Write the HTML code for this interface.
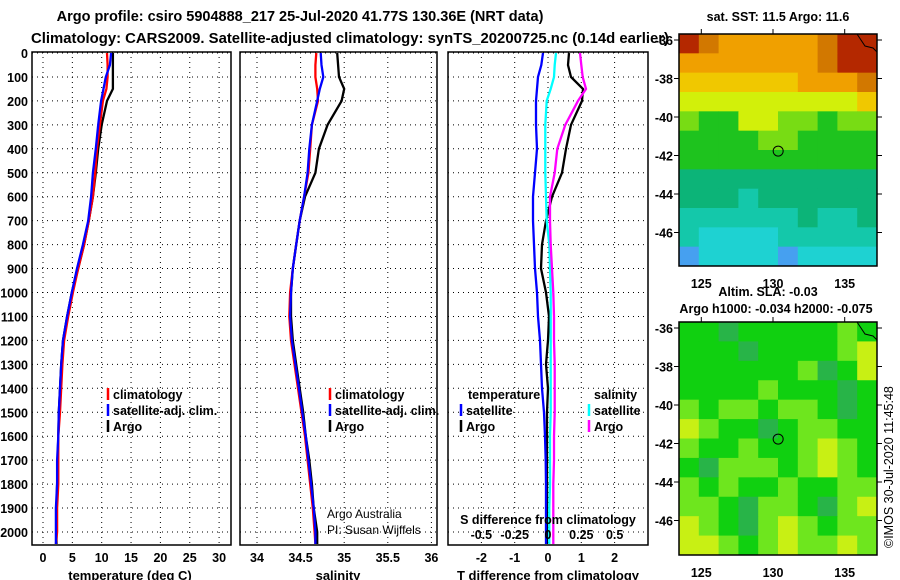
<!DOCTYPE html>
<html><head><meta charset="utf-8">
<style>
html,body{margin:0;padding:0;background:#fff;}
svg{display:block;font-family:"Liberation Sans",sans-serif;}
.b{font-weight:bold;}
</style></head>
<body>
<svg id="s" width="900" height="580" viewBox="0 0 900 580" xmlns="http://www.w3.org/2000/svg">
<text x="300" y="21" text-anchor="middle" class="b" font-size="14.5">Argo profile: csiro 5904888_217 25-Jul-2020 41.77S 130.36E (NRT data)</text>
<text x="350" y="43" text-anchor="middle" class="b" font-size="14.5" textLength="638" lengthAdjust="spacingAndGlyphs">Climatology: CARS2009. Satellite-adjusted climatology: synTS_20200725.nc (0.14d earlier)</text>
<g id="g"></g>
</svg>
<script>
// ---------- data ----------
const depths = [0,50,100,150,200,300,400,500,600,700,800,900,1000,1100,1200,1300,1400,1500,1600,1700,1800,1900,2000,2050];
const tempArgo = [11.9,11.9,11.9,11.9,10.9,10.0,9.4,9.0,8.5,7.8,7.0,6.0,4.9,4.1,3.4,3.1,2.9,2.7,2.6,2.5,2.4,2.3,2.3,2.3];
const tempClim = [10.9,11.0,11.0,10.8,10.2,9.7,9.2,8.9,8.5,7.8,7.0,6.0,5.1,4.3,3.6,3.3,3.1,2.9,2.6,2.6,2.6,2.4,2.4,2.2];
const tempSat = [11.6,11.4,10.7,10.3,9.9,9.4,9.0,8.5,8.2,7.7,6.8,5.8,4.9,4.1,3.4,3.1,2.9,2.7,2.6,2.4,2.4,2.2,2.2,2.2];
const salArgo = [34.92,34.93,34.94,35.0,34.97,34.81,34.71,34.67,34.55,34.49,34.45,34.41,34.39,34.39,34.41,34.45,34.49,34.53,34.56,34.60,34.63,34.65,34.69,34.69];
const salClim = [34.68,34.67,34.67,34.69,34.70,34.63,34.61,34.59,34.54,34.49,34.45,34.41,34.38,34.37,34.39,34.43,34.47,34.51,34.55,34.58,34.61,34.64,34.66,34.67];
const salSat = [34.73,34.74,34.76,34.72,34.69,34.63,34.60,34.58,34.54,34.49,34.45,34.41,34.39,34.38,34.40,34.44,34.48,34.52,34.56,34.59,34.62,34.65,34.67,34.67];
const dtSat = [-0.15,-0.2,-0.3,-0.33,-0.36,-0.36,-0.33,-0.39,-0.45,-0.45,-0.42,-0.39,-0.33,-0.3,-0.24,-0.21,-0.18,-0.12,-0.09,-0.07,-0.06,-0.06,-0.06,-0.06];
const dtArgo = [0.63,0.6,0.69,1.05,1.02,0.69,0.54,0.42,0.12,-0.06,-0.18,-0.21,-0.06,0.03,0.0,-0.06,0.0,-0.03,-0.03,-0.03,-0.03,-0.03,-0.03,-0.03];
const dsSat = [0.06,0.05,0.045,0.02,-0.01,-0.02,-0.02,-0.02,-0.015,-0.01,0.01,0.015,0.02,0.02,0.02,0.02,0.02,0.02,0.015,0.015,0.015,0.01,0.01,0.01];
const dsArgo = [0.24,0.25,0.26,0.285,0.225,0.13,0.07,0.05,0.015,0.015,0.02,0.03,0.04,0.045,0.045,0.05,0.05,0.05,0.045,0.045,0.04,0.04,0.04,0.04];
const depthTicks = [0,100,200,300,400,500,600,700,800,900,1000,1100,1200,1300,1400,1500,1600,1700,1800,1900,2000];
const tempTicks = [0,5,10,15,20,25,30];
const salTicks = [34,34.5,35,35.5,36];
const dtTicks = [-2,-1,0,1,2];
const dsTicks = [-0.5,-0.25,0,0.25,0.5];
const dsTickLabels = ["-0.5","-0.25","0","0.25","0.5"];
const lonTicks = [125,130,135];
const latTicks = [-36,-38,-40,-42,-44,-46];
const sstGrid = [
[10,9,8,8,8,8,8,9,10,10],[8,8,8,8,8,8,8,9,10,10],[7,7,7,7,7,7,8,8,8,9],[6,6,6,6,6,6,6,6,6,7],
[5,4,4,6,6,5,5,4,5,5],[4,4,4,4,5,5,4,4,4,4],[4,4,4,4,4,4,4,4,4,4],[3,3,3,3,3,3,3,3,3,3],
[3,3,3,2,3,3,3,3,3,3],[2,2,2,2,2,2,3,2,2,3],[2,1,1,1,1,2,2,2,2,2],[0,1,1,1,1,0,1,1,1,1]];
const slaGrid = [
[4,4,3,4,4,4,4,4,5,4],[4,4,4,3,4,4,4,4,5,6],[4,4,4,4,4,4,5,3,4,6],[4,4,4,4,5,4,4,4,3,4],
[5,4,5,5,4,5,5,4,3,4],[6,5,4,4,3,4,5,5,4,4],[5,4,4,5,4,4,5,6,5,4],[4,3,5,5,5,4,5,6,5,4],
[5,4,5,4,4,5,4,4,5,5],[5,5,4,3,5,5,4,3,5,6],[6,5,4,3,5,6,5,4,5,5],[6,6,5,4,5,6,5,5,6,5]];
const floatLon = 130.36, floatLat = -41.77;

// ---------- helpers ----------
const NS="http://www.w3.org/2000/svg";
const G=document.getElementById('g');
function mk(tag,attrs,parent){const e=document.createElementNS(NS,tag);for(const k in attrs)e.setAttribute(k,attrs[k]);(parent||G).appendChild(e);return e;}
const PT=52, PB=545;
const yD = d => 53 + d*0.2395;
const xT = v => 43 + v*5.87;
const xS = v => 257 + (v-34)*87.2;
const xDT = v => 548 + v*33.3;
const xDS = v => 548 + v*133.3;

function panel(x0,x1,name,xticks,xfn,labels){
  const grp=mk('g',{});
  
  
  depthTicks.forEach(d=>{const l=mk('line',{x1:x0,x2:x1,y1:yD(d),y2:yD(d),stroke:'#000','stroke-width':1,'stroke-dasharray':'1,4'},grp);
    });
  xticks.forEach(v=>{const l=mk('line',{x1:xfn(v),x2:xfn(v),y1:PT,y2:PB,stroke:'#000','stroke-width':1,'stroke-dasharray':'1,4'},grp);
    });
  const r=mk('rect',{x:x0,y:PT,width:x1-x0,height:PB-PT,fill:'none',stroke:'#000','stroke-width':1.5},grp);
  
  if(labels){xticks.forEach((v,i)=>{const t=mk('text',{x:xfn(v),y:562,'text-anchor':'middle','font-size':12.5,'class':'b'},grp);t.textContent=labels[i];
    });}
  return grp;
}
function line(vals,xfn,color,name,grp){
  const pts=vals.map((v,i)=>xfn(v).toFixed(1)+','+yD(depths[i]).toFixed(1)).join(' ');
  const p=mk('polyline',{points:pts,fill:'none',stroke:color,'stroke-width':2.3},grp);
  
}
function txt(x,y,s,attrs,name){const t=mk('text',Object.assign({x:x,y:y},attrs||{}));t.textContent=s;
  return t;}
function legend(x,y,color,label,name){const l=mk('line',{x1:x,x2:x,y1:y-11,y2:y+1,stroke:color,'stroke-width':2.5});
  
  txt(x+5,y,label,{'font-size':12.5,'class':'b'},name+'-label');}

// depth tick labels
depthTicks.forEach(d=>{txt(28,yD(d)+5,String(d),{'text-anchor':'end','font-size':12.5,'class':'b'},'depth-tick-label');});

// panel 1: temperature
const p1=panel(32,231,'temperature-panel',tempTicks,xT,tempTicks.map(String));
line(tempArgo,xT,'#000','temp-argo-line',p1);
line(tempClim,xT,'#f00','temp-climatology-line',p1);
line(tempSat,xT,'#00f','temp-satellite-line',p1);
txt(130,580,'temperature (deg C)',{'text-anchor':'middle','font-size':13,'class':'b'},'temperature-axis-title');
legend(108,399,'#f00','climatology','legend-temp-climatology');
legend(108,415,'#00f','satellite-adj. clim.','legend-temp-satellite');
legend(108,431,'#000','Argo','legend-temp-argo');

// panel 2: salinity
const p2=panel(240,437,'salinity-panel',salTicks,xS,salTicks.map(String));
line(salArgo,xS,'#000','sal-argo-line',p2);
line(salClim,xS,'#f00','sal-climatology-line',p2);
line(salSat,xS,'#00f','sal-satellite-line',p2);
txt(338,580,'salinity',{'text-anchor':'middle','font-size':13,'class':'b'},'salinity-axis-title');
legend(330,399,'#f00','climatology','legend-sal-climatology');
legend(330,415,'#00f','satellite-adj. clim.','legend-sal-satellite');
legend(330,431,'#000','Argo','legend-sal-argo');
txt(327,518,'Argo Australia',{'font-size':12},'credit-argo-australia');
txt(327,534,'PI: Susan Wijffels',{'font-size':12},'credit-pi');

// panel 3: differences
const p3=panel(448,648,'difference-panel',dtTicks,xDT,dtTicks.map(String));
line(dtArgo,xDT,'#000','dT-argo-line',p3);
line(dtSat,xDT,'#00f','dT-satellite-line',p3);
line(dsSat,xDS,'#0ff','dS-satellite-line',p3);
line(dsArgo,xDS,'#f0f','dS-argo-line',p3);
txt(548,580,'T difference from climatology',{'text-anchor':'middle','font-size':13,'class':'b'},'dT-axis-title');
txt(548,524,'S difference from climatology',{'text-anchor':'middle','font-size':12.5,'class':'b'},'dS-axis-title');
dsTicks.forEach((v,i)=>txt(xDS(v),539,dsTickLabels[i],{'text-anchor':'middle','font-size':12.5,'class':'b'},'dS-tick-label'));
txt(468,399,'temperature',{'font-size':12.5,'class':'b'},'legend-temperature-heading');
txt(594,399,'salinity',{'font-size':12.5,'class':'b'},'legend-salinity-heading');
legend(461,415,'#00f','satellite','legend-dT-satellite');
legend(461,431,'#000','Argo','legend-dT-argo');
legend(589,415,'#0ff','satellite','legend-dS-satellite');
legend(589,431,'#f0f','Argo','legend-dS-argo');

// maps
const pal=['#46a0f0','#1ed2d2','#14c8aa','#0cb478','#1ec31e','#78dc14','#d2f00a','#f0c800','#f0a000','#d27800','#b42800'];
const palSla=['#46a0f0','#1ed2d2','#14c8aa','#28b448','#10d010','#6ee61e','#c8f014','#f0dc14','#f0a000','#d27800','#b42800'];
const MX0=679, MX1=877;
const xLon = lon => 773 + (lon-130)*14.34;
function map(y0,y1,yLat,grid,colors,name){
  const grp=mk('g',{});
  
  
  const rows=grid.length, cols=grid[0].length, cw=(MX1-MX0)/cols, ch=(y1-y0)/rows;
  grid.forEach((row,r)=>row.forEach((v,c)=>{
    const cell=mk('rect',{x:MX0+c*cw,y:y0+r*ch,width:cw+0.5,height:ch+0.5,fill:colors[v]},grp);
    }));
  const land=mk('path',{d:`M${MX1-20},${y0} L${MX1-12},${y0+12} L${MX1-4},${y0+14} L${MX1},${y0+18} L${MX1},${y0}Z`,fill:colors===pal?'#b42800':'#10d010',stroke:'#000','stroke-width':1},grp);
  
  const fr=mk('rect',{x:MX0,y:y0,width:MX1-MX0,height:y1-y0,fill:'none',stroke:'#000','stroke-width':1.5},grp);
  
  latTicks.forEach(l=>{const y=yLat(l);
    const t1=mk('line',{x1:MX0-5,x2:MX0,y1:y,y2:y,stroke:'#000'},grp);
    const t2=mk('line',{x1:MX1,x2:MX1+5,y1:y,y2:y,stroke:'#000'},grp);
    txt(MX0-6,y+5,String(l),{'text-anchor':'end','font-size':12.5,'class':'b'},'lat-tick-label');});
  lonTicks.forEach(l=>{const x=xLon(l);
    const t=mk('line',{x1:x,x2:x,y1:y0-5,y2:y0,stroke:'#000'},grp);
    txt(x,y1+22,String(l),{'text-anchor':'middle','font-size':12.5,'class':'b'},'lon-tick-label');});
  const c=mk('circle',{cx:xLon(floatLon),cy:yLat(floatLat),r:5,fill:'none',stroke:'#000','stroke-width':1},grp);
  
}
map(34,266,l=>40+(-36-l)*19.25,sstGrid,pal,'sst-map');
map(322,555,l=>328+(-36-l)*19.25,slaGrid,palSla,'sla-map');
txt(778,21,'sat. SST: 11.5 Argo: 11.6',{'text-anchor':'middle','font-size':12.5,'class':'b'},'sst-map-title');
txt(768,296,'Altim. SLA: -0.03',{'text-anchor':'middle','font-size':12.5,'class':'b'},'sla-value-label');
txt(776,313,'Argo h1000: -0.034 h2000: -0.075',{'text-anchor':'middle','font-size':12.5,'class':'b'},'argo-height-label');
const cr=txt(0,0,'©IMOS 30-Jul-2020 11:45:48',{'font-size':12.5,transform:'translate(893,548) rotate(-90)'},'imos-credit');
</script>
</body></html>
